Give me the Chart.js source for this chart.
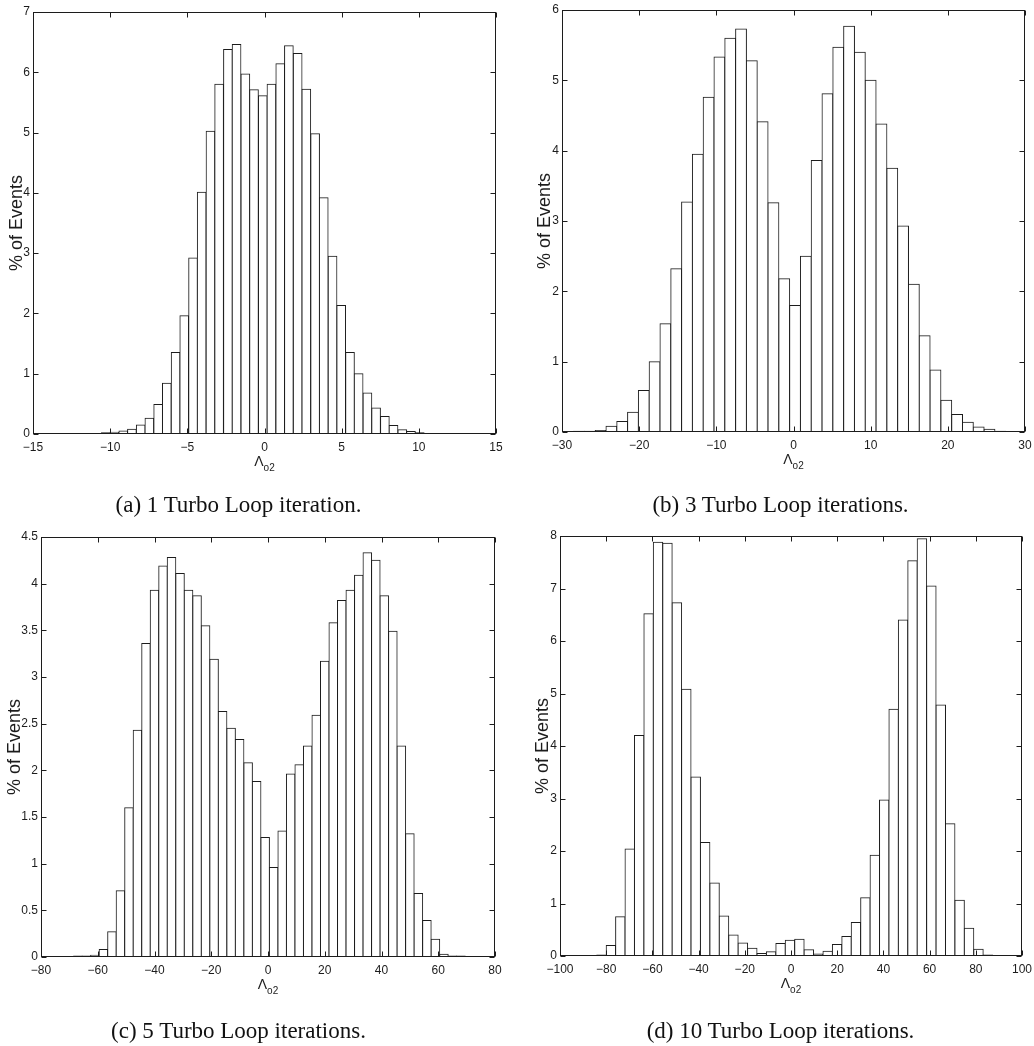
<!DOCTYPE html>
<html>
<head>
<meta charset="utf-8">
<script src="https://cdn.jsdelivr.net/npm/chart.js@4.4.1/dist/chart.umd.min.js"></script>
<style>
  body { margin: 0; background: #fff; }
  #page { position: relative; width: 1034px; height: 1046px; overflow: hidden; background: #fff; }
  canvas { position: absolute; }
  .cap {
    position: absolute; width: 517px; text-align: center; white-space: nowrap; line-height: 30px;
    font-family: "Liberation Serif", "Times New Roman", serif; font-size: 23px; color: #111;
  }
</style>
</head>
<body>
<div id="page">
  <canvas id="histA" width="517" height="520" style="left:0;top:0"></canvas>
  <canvas id="histB" width="517" height="520" style="left:517px;top:0"></canvas>
  <canvas id="histC" width="517" height="526" style="left:0;top:520px"></canvas>
  <canvas id="histD" width="517" height="526" style="left:517px;top:520px"></canvas>
  <div class="cap" style="left:-20px;top:490px">(a) 1 Turbo Loop iteration.</div>
  <div class="cap" style="left:522px;top:490px">(b) 3 Turbo Loop iterations.</div>
  <div class="cap" style="left:-20px;top:1016px">(c) 5 Turbo Loop iterations.</div>
  <div class="cap" style="left:522px;top:1016px">(d) 10 Turbo Loop iterations.</div>
</div>
<script>
// (a) 1 iteration
const binsA = [-13.11, -12.54, -11.98, -11.41, -10.85, -10.28, -9.72, -9.15, -8.59, -8.02,
  -7.46, -6.89, -6.33, -5.76, -5.20, -4.63, -4.07, -3.50, -2.94, -2.37,
  -1.81, -1.24, -0.68, -0.11, 0.45, 1.02, 1.58, 2.15, 2.71, 3.28,
  3.84, 4.41, 4.97, 5.54, 6.10, 6.67, 7.23, 7.80, 8.36, 8.93,
  9.49, 10.06, 10.62, 11.19, 11.75, 12.32];
const pctA = [0.01, 0.01, 0, 0.01, 0.01, 0.02, 0.03, 0.05, 0.08, 0.15,
  0.26, 0.49, 0.84, 1.35, 1.96, 2.92, 4.01, 5.02, 5.80, 6.38,
  6.46, 5.97, 5.71, 5.61, 5.80, 6.14, 6.44, 6.31, 5.72, 4.98,
  3.92, 2.95, 2.13, 1.35, 1.00, 0.68, 0.43, 0.29, 0.14, 0.07,
  0.04, 0.02, 0.01, 0.01, 0.01, 0];
const xTicksA = [-15, -10, -5, 0, 5, 10, 15];
const yTicksA = [0, 1, 2, 3, 4, 5, 6, 7];

// (b) 3 iterations
const binsB = [-27.8, -26.4, -25.0, -23.6, -22.2, -20.8, -19.4, -18.0, -16.6, -15.2,
  -13.8, -12.4, -11.0, -9.6, -8.2, -6.8, -5.4, -4.0, -2.6, -1.2,
  0.2, 1.6, 3.0, 4.4, 5.8, 7.2, 8.6, 10.0, 11.4, 12.8,
  14.2, 15.6, 17.0, 18.4, 19.8, 21.2, 22.6, 24.0, 25.4, 26.8];
const pctB = [0.01, 0.01, 0.02, 0.08, 0.15, 0.28, 0.59, 1.00, 1.54, 2.32,
  3.27, 3.95, 4.76, 5.33, 5.60, 5.73, 5.28, 4.41, 3.26, 2.18,
  1.80, 2.50, 3.86, 4.81, 5.47, 5.77, 5.40, 5.00, 4.38, 3.75,
  2.93, 2.10, 1.37, 0.88, 0.45, 0.25, 0.14, 0.07, 0.04, 0.01];
const xTicksB = [-30, -20, -10, 0, 10, 20, 30];
const yTicksB = [0, 1, 2, 3, 4, 5, 6];

// (c) 5 iterations
const binsC = [-67, -64, -61, -58, -55, -52, -49, -46, -43, -40,
  -37, -34, -31, -28, -25, -22, -19, -16, -13, -10,
  -7, -4, -1, 2, 5, 8, 11, 14, 17, 20,
  23, 26, 29, 32, 35, 38, 41, 44, 47, 50,
  53, 56, 59, 62, 65, 68];
const pctC = [0.01, 0.01, 0.02, 0.08, 0.27, 0.71, 1.60, 2.43, 3.36, 3.93,
  4.19, 4.28, 4.11, 3.93, 3.87, 3.55, 3.19, 2.63, 2.45, 2.33,
  2.08, 1.88, 1.28, 0.96, 1.35, 1.96, 2.06, 2.26, 2.59, 3.17,
  3.58, 3.82, 3.93, 4.09, 4.33, 4.25, 3.87, 3.49, 2.26, 1.32,
  0.68, 0.39, 0.19, 0.03, 0.01, 0.01];
const xTicksC = [-80, -60, -40, -20, 0, 20, 40, 60, 80];
const yTicksC = [0, 0.5, 1, 1.5, 2, 2.5, 3, 3.5, 4, 4.5];

// (d) 10 iterations
const binsD = [-86.12, -82.04, -77.96, -73.88, -69.80, -65.72, -61.64, -57.56, -53.48, -49.40,
  -45.32, -41.24, -37.16, -33.08, -29.00, -24.92, -20.84, -16.76, -12.68, -8.60,
  -4.52, -0.44, 3.64, 7.72, 11.80, 15.88, 19.96, 24.04, 28.12, 32.20,
  36.28, 40.36, 44.44, 48.52, 52.60, 56.68, 60.76, 64.84, 68.92, 73.00,
  77.08, 81.16, 85.24];
const pctD = [0.01, 0.02, 0.20, 0.75, 2.04, 4.20, 6.52, 7.88, 7.86, 6.73,
  5.08, 3.41, 2.16, 1.39, 0.76, 0.40, 0.25, 0.15, 0.05, 0.08,
  0.24, 0.30, 0.32, 0.12, 0.04, 0.09, 0.22, 0.37, 0.64, 1.11,
  1.92, 2.97, 4.70, 6.40, 7.53, 7.95, 7.05, 4.78, 2.52, 1.06,
  0.53, 0.13, 0.02];
const xTicksD = [-100, -80, -60, -40, -20, 0, 20, 40, 60, 80, 100];
const yTicksD = [0, 1, 2, 3, 4, 5, 6, 7, 8];

const ink = "#1c1c1c";
const sans = "'Liberation Sans', Arial, Helvetica, sans-serif";

function fmtTick(v) {
  return String(v).replace("-", "\u2212");
}

// box with inward ticks on all four sides, plus the Lambda_o2 label
const framePlugin = {
  id: "frame",
  afterDraw(chart) {
    const { ctx, chartArea: a, scales } = chart;
    const L = Math.round(a.left) + 0.5, R = Math.round(a.right) - 0.5;
    const T = Math.round(a.top) + 0.5, B = Math.round(a.bottom) - 0.5;
    ctx.save();
    ctx.strokeStyle = ink;
    ctx.lineWidth = 1;
    ctx.strokeRect(L, T, R - L, B - T);
    ctx.beginPath();
    scales.x.ticks.forEach(t => {
      const px = Math.round(scales.x.getPixelForValue(t.value)) + 0.5;
      ctx.moveTo(px, B); ctx.lineTo(px, B - 5);
      ctx.moveTo(px, T); ctx.lineTo(px, T + 5);
    });
    scales.y.ticks.forEach(t => {
      const py = Math.round(scales.y.getPixelForValue(t.value)) + 0.5;
      ctx.moveTo(L, py); ctx.lineTo(L + 5, py);
      ctx.moveTo(R, py); ctx.lineTo(R - 5, py);
    });
    ctx.stroke();

    const cx = (a.left + a.right) / 2;
    const base = a.bottom + 32;
    ctx.fillStyle = ink;
    ctx.textAlign = "left";
    ctx.textBaseline = "alphabetic";
    ctx.font = "14px " + sans;
    const w1 = ctx.measureText("\u039B").width;
    ctx.font = "10px " + sans;
    const w2 = ctx.measureText("o2").width;
    const x0 = cx - (w1 + w2) / 2;
    ctx.font = "14px " + sans;
    ctx.fillText("\u039B", x0, base);
    ctx.font = "10px " + sans;
    ctx.fillText("o2", x0 + w1, base + 5);
    ctx.restore();
  }
};

function drawHistogram(id, bins, pct, xTicks, yTicks, box, titlePad) {
  const ctx = document.getElementById(id).getContext("2d");
  return new Chart(ctx, {
    type: "bar",
    data: {
      datasets: [{
        data: bins.map((b, i) => ({ x: b, y: pct[i] })),
        backgroundColor: "#fff",
        borderColor: ink,
        borderWidth: 1,
        inflateAmount: 0.5,
        barPercentage: 1,
        categoryPercentage: 1,
      }],
    },
    options: {
      responsive: false,
      animation: false,
      devicePixelRatio: 1,
      layout: { padding: { top: box.top, right: box.right, left: 0, bottom: 0 } },
      plugins: { legend: { display: false }, tooltip: { enabled: false } },
      scales: {
        x: {
          type: "linear",
          offset: false,
          min: xTicks[0],
          max: xTicks[xTicks.length - 1],
          grid: { display: false, drawTicks: false },
          border: { display: false },
          afterBuildTicks: s => { s.ticks = xTicks.map(v => ({ value: v })); },
          afterFit: s => { s.height = box.bottom; s.paddingLeft = 0; s.paddingRight = 0; },
          ticks: {
            padding: 6, autoSkip: false, maxRotation: 0, color: ink,
            font: { family: sans, size: 12 }, callback: fmtTick,
          },
        },
        y: {
          min: 0,
          max: yTicks[yTicks.length - 1],
          grid: { display: false, drawTicks: false },
          border: { display: false },
          afterBuildTicks: s => { s.ticks = yTicks.map(v => ({ value: v })); },
          afterFit: s => { s.width = box.left; s.paddingTop = 0; s.paddingBottom = 0; },
          ticks: {
            padding: 3, autoSkip: false, color: ink,
            font: { family: sans, size: 12 }, callback: fmtTick,
          },
          title: {
            display: true, text: "% of Events", color: ink,
            font: { family: sans, size: 18 }, padding: { top: titlePad, bottom: 0 },
          },
        },
      },
    },
    plugins: [framePlugin],
  });
}

drawHistogram("histA", binsA, pctA, xTicksA, yTicksA, { left: 33, top: 12, right: 21, bottom: 86 }, 6);
drawHistogram("histB", binsB, pctB, xTicksB, yTicksB, { left: 45, top: 10, right: 9, bottom: 88 }, 17);
drawHistogram("histC", binsC, pctC, xTicksC, yTicksC, { left: 41, top: 17, right: 22, bottom: 89 }, 4);
drawHistogram("histD", binsD, pctD, xTicksD, yTicksD, { left: 43, top: 16, right: 12, bottom: 90 }, 15);
</script>
</body>
</html>
